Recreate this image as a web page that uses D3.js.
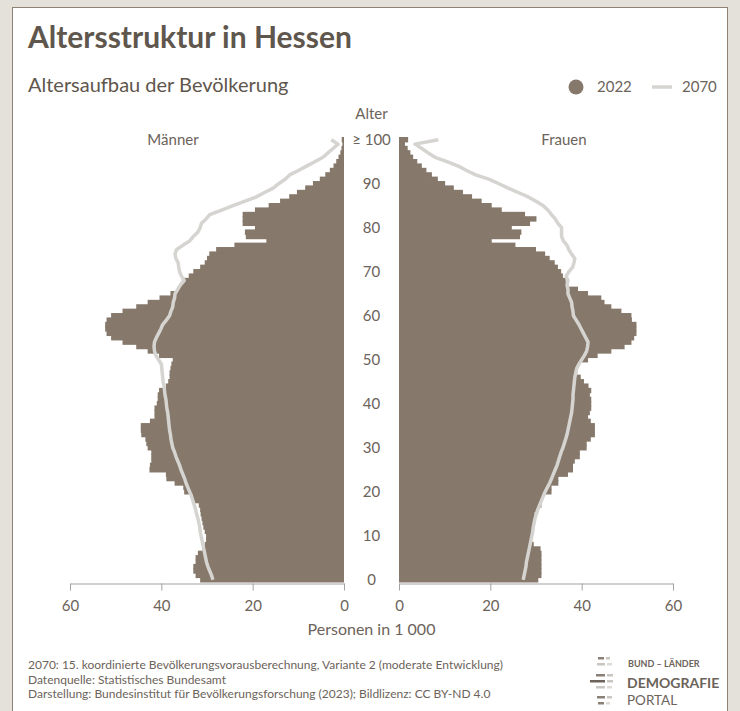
<!DOCTYPE html>
<html>
<head>
<meta charset="utf-8">
<script src="https://cdn.jsdelivr.net/npm/d3@7"></script>
<style>
  html, body { margin: 0; padding: 0; background: #e4e1db; }
  svg { display: block; font-family: Lato, "Open Sans", sans-serif; }
</style>
</head>
<body>
<div id="chart"></div>
<script>
// ages 0 .. 100 (100 = "≥ 100"), values in 1000 persons
const ages = d3.range(0, 101);

const maenner2022 = [
  31.5, 32.5, 33, 33, 32.5, 32.5, 32, 31, 30.5, 30.2,
  30.2, 30.5, 30.8, 31, 31.2, 31.4, 31.5, 31.8, 33, 33.1,
  35, 35.2, 37.1, 38.9, 39, 42.6, 42.5, 42.2, 42.2, 42.2,
  43, 43.3, 43.5, 44.4, 44.5, 44.5, 42.5, 41.5, 41.5, 41.5,
  41, 40.8, 40.8, 40.5, 39, 38.5, 38.2, 38.2, 38, 37.8,
  37.5, 40.5, 43, 45.5, 48.5, 51, 52, 52.3, 52.3, 52,
  51, 48.5, 45.5, 43, 40.4, 38, 36.5, 35.8, 35.5, 34,
  33, 31.5, 30.5, 30, 29.5, 28, 24, 17, 21.5, 21.7,
  19.5, 22.2, 22.2, 22.2, 19.5, 16.5, 14, 12, 10.3, 8.5,
  6.8, 5.3, 4.1, 3.1, 2.3, 1.7, 1.2, 0.8, 0.55, 0.35,
  0.5
];

const frauen2022 = [
  30.5, 31.2, 31.2, 31.2, 31.2, 31.2, 31.2, 31, 29.5, 29,
  29, 29, 29.2, 29.7, 29.7, 29.7, 30.5, 31.2, 31.2, 31.5,
  33.4, 33.4, 34.9, 34.9, 37, 38.1, 38.1, 38.5, 39.6, 39.6,
  41.1, 41.1, 42, 42.9, 42.9, 42.9, 42, 41.4, 41.8, 42.1,
  42.1, 42.1, 41.8, 42.1, 41.5, 40.5, 39.8, 39, 38.9, 39.2,
  41.4, 43.5, 46.5, 49.4, 50.9, 51.5, 52, 52, 52, 51,
  50.9, 48.7, 46.5, 45, 44.3, 41.4, 39.2, 37, 36.5, 35.9,
  35.5, 34.8, 34.1, 33, 32, 30, 25.5, 20.3, 26.5, 26.8,
  24.7, 28.7, 30.1, 27.6, 22.5, 20.3, 18.1, 16, 14, 12,
  10.1, 8.5, 7.2, 6, 5, 4, 3.1, 2.5, 1.9, 1.3,
  2
];

const maenner2070 = [
  28.7, 29.0, 29.4, 29.8, 30.1, 30.3, 30.5, 30.7, 30.9, 31.1,
  31.3, 31.5, 31.6, 31.8, 32.0, 32.3, 32.5, 32.8, 33.1, 33.4,
  33.8, 34.2, 34.6, 34.9, 35.3, 35.7, 36.0, 36.4, 36.8, 37.1,
  37.5, 37.7, 37.9, 38.0, 38.2, 38.3, 38.4, 38.5, 38.6, 38.8,
  38.9, 39.0, 39.2, 39.3, 39.4, 39.6, 39.7, 39.8, 39.9, 40.0,
  40.6, 41.2, 41.5, 41.6, 41.5, 41.1, 40.6, 40.1, 39.7, 38.9,
  38.2, 37.9, 37.5, 37.4, 37.1, 37.0, 36.4, 35.8, 35.0, 35.6,
  36.0, 36.2, 36.3, 36.8, 37.0, 36.7, 35.3, 33.8, 33.0, 32.0,
  31.5, 31.2, 30.2, 29.4, 26.8, 24.3, 21.8, 19.2, 17.4, 15.5,
  14.3, 12.9, 11.9, 10.0, 8.2, 6.4, 4.6, 3.5, 2.4, 1.3,
  2.8
];

const frauen2070 = [
  27.2, 27.4, 27.6, 27.8, 27.9, 28.1, 28.3, 28.5, 28.7, 28.9,
  29.1, 29.3, 29.4, 29.6, 29.8, 30.1, 30.4, 30.8, 31.2, 31.6,
  32.0, 32.5, 33.0, 33.4, 33.8, 34.2, 34.6, 34.9, 35.2, 35.5,
  35.9, 36.2, 36.5, 36.8, 37.0, 37.2, 37.4, 37.6, 37.8, 37.9,
  38.0, 38.1, 38.1, 38.2, 38.3, 38.4, 38.5, 38.7, 38.9, 39.4,
  40.0, 40.6, 41.1, 41.3, 41.4, 40.9, 40.4, 39.9, 39.4, 38.8,
  38.2, 38.1, 37.9, 37.8, 37.4, 37.0, 37.0, 36.8, 37.0, 36.6,
  37.2, 38.0, 38.3, 38.5, 37.8, 37.2, 36.8, 36.0, 35.6, 35.6,
  35.6, 34.8, 34.2, 33.4, 32.6, 31.6, 30.0, 28.3, 26.1, 23.9,
  21.9, 19.8, 16.8, 14.8, 13.0, 10.5, 7.9, 6.4, 5.0, 3.5,
  8.6
];

const ageTicks = [0, 10, 20, 30, 40, 50, 60, 70, 80, 90, 100];
const valueTicks = [0, 20, 40, 60];

const footer = [
  "2070: 15. koordinierte Bevölkerungsvorausberechnung, Variante 2 (moderate Entwicklung)",
  "Datenquelle: Statistisches Bundesamt",
  "Darstellung: Bundesinstitut für Bevölkerungsforschung (2023); Bildlizenz: CC BY-ND 4.0"
];

const W = 740, H = 711;
const barColor = "#86796b";
const lineColor = "#d6d4d0";
const textColor = "#6c635a";

const svg = d3.select("#chart").append("svg")
  .attr("width", W)
  .attr("height", H);

// white panel
svg.append("rect")
  .attr("x", 12.5).attr("y", 7.5)
  .attr("width", 715).attr("height", 710)
  .attr("fill", "#fff")
  .attr("stroke", "#8f8274")
  .attr("stroke-width", 1);

// titles
svg.append("text")
  .attr("x", 28).attr("y", 48)
  .attr("font-size", 30).attr("font-weight", 700)
  .attr("fill", "#5f564d")
  .text("Altersstruktur in Hessen");

svg.append("text")
  .attr("x", 28).attr("y", 92)
  .attr("font-size", 20)
  .attr("fill", "#5f564d")
  .text("Altersaufbau der Bevölkerung");

// legend
svg.append("circle").attr("cx", 576).attr("cy", 87).attr("r", 7.5).attr("fill", barColor);
svg.append("text").attr("x", 597).attr("y", 92).attr("font-size", 15).attr("fill", textColor).text("2022");
svg.append("line").attr("x1", 652).attr("x2", 672).attr("y1", 87).attr("y2", 87)
  .attr("stroke", lineColor).attr("stroke-width", 3.5);
svg.append("text").attr("x", 682).attr("y", 92).attr("font-size", 15).attr("fill", textColor).text("2070");

// scales
const y = d3.scaleBand()
  .domain(ages)
  .range([582, 137.5])
  .padding(0);

const xL = d3.scaleLinear().domain([0, 60]).range([344, 70]);
const xR = d3.scaleLinear().domain([0, 60]).range([399, 673]);

// bars (slight overlap hides antialiasing seams)
const overlap = 0.5;
svg.append("g").selectAll("rect")
  .data(ages)
  .join("rect")
  .attr("x", d => xL(maenner2022[d]))
  .attr("y", d => y(d) - overlap)
  .attr("width", d => xL(0) - xL(maenner2022[d]))
  .attr("height", y.bandwidth() + overlap * 2)
  .attr("fill", barColor);

svg.append("g").selectAll("rect")
  .data(ages)
  .join("rect")
  .attr("x", xR(0))
  .attr("y", d => y(d) - overlap)
  .attr("width", d => xR(frauen2022[d]) - xR(0))
  .attr("height", y.bandwidth() + overlap * 2)
  .attr("fill", barColor);

// 2070 lines
const yc = d => y(d) + y.bandwidth() / 2;
svg.append("path")
  .datum(ages)
  .attr("fill", "none")
  .attr("stroke", lineColor)
  .attr("stroke-width", 3.5)
  .attr("stroke-linejoin", "round")
  .attr("d", d3.line().x(d => xL(maenner2070[d])).y(yc));

svg.append("path")
  .datum(ages)
  .attr("fill", "none")
  .attr("stroke", lineColor)
  .attr("stroke-width", 3.5)
  .attr("stroke-linejoin", "round")
  .attr("d", d3.line().x(d => xR(frauen2070[d])).y(yc));

// x axes
const styleAxis = g => {
  g.select(".domain").attr("stroke", "#a3a3a3");
  g.selectAll(".tick line").attr("stroke", "#a3a3a3");
  g.selectAll(".tick text")
    .attr("fill", textColor)
    .attr("font-size", 15)
    .attr("font-family", "Lato, sans-serif");
};
svg.append("g")
  .attr("transform", "translate(0,583.5)")
  .call(d3.axisBottom(xL).tickValues(valueTicks).tickSize(7).tickSizeOuter(0).tickPadding(10))
  .call(styleAxis);
svg.append("g")
  .attr("transform", "translate(0,583.5)")
  .call(d3.axisBottom(xR).tickValues(valueTicks).tickSize(7).tickSizeOuter(0).tickPadding(10))
  .call(styleAxis);

// age labels
svg.append("g").selectAll("text")
  .data(ageTicks)
  .join("text")
  .attr("x", 371.5)
  .attr("y", d => yc(d) + 5)
  .attr("text-anchor", "middle")
  .attr("font-size", 15)
  .attr("fill", textColor)
  .text(d => d === 100 ? "≥ 100" : d);

svg.append("text").attr("x", 371.5).attr("y", 119).attr("text-anchor", "middle")
  .attr("font-size", 15).attr("fill", textColor).text("Alter");
svg.append("text").attr("x", 173).attr("y", 145).attr("text-anchor", "middle")
  .attr("font-size", 15).attr("fill", textColor).text("Männer");
svg.append("text").attr("x", 564).attr("y", 145).attr("text-anchor", "middle")
  .attr("font-size", 15).attr("fill", textColor).text("Frauen");
svg.append("text").attr("x", 371.5).attr("y", 635).attr("text-anchor", "middle")
  .attr("font-size", 16).attr("fill", textColor).text("Personen in 1 000");

// footer
svg.append("g").selectAll("text")
  .data(footer)
  .join("text")
  .attr("x", 28)
  .attr("y", (d, i) => 669 + i * 14.5)
  .attr("font-size", 12)
  .attr("fill", textColor)
  .text(d => d);

// logo
const logo = svg.append("g").attr("transform", "translate(590,655)");
const marks = [
  [8, 2, 6, "#8a8076"], [16, 2, 4, "#c9c5c0"],
  [7, 8, 8, "#c9c5c0"], [17, 8, 5, "#dedbd7"],
  [6, 19, 9, "#8a8076"], [17, 19, 6, "#c9c5c0"],
  [0, 25, 15, "#6c635a"], [17, 25, 6, "#c9c5c0"],
  [6, 31, 9, "#c9c5c0"], [17, 31, 5, "#dedbd7"],
  [7, 41, 8, "#8a8076"], [17, 41, 5, "#c9c5c0"],
  [8, 47, 6, "#8a8076"], [16, 47, 4, "#dedbd7"]
];
logo.selectAll("rect")
  .data(marks)
  .join("rect")
  .attr("x", d => d[0]).attr("y", d => d[1])
  .attr("width", d => d[2]).attr("height", 2.5)
  .attr("fill", d => d[3]);
svg.append("text").attr("x", 628).attr("y", 667).attr("font-size", 9).attr("font-weight", 700)
  .attr("fill", textColor).text("BUND – LÄNDER");
svg.append("text").attr("x", 627).attr("y", 688).attr("font-size", 14).attr("font-weight", 700)
  .attr("fill", textColor).text("DEMOGRAFIE");
svg.append("text").attr("x", 627).attr("y", 705).attr("font-size", 13.5)
  .attr("fill", textColor).text("PORTAL");
</script>
</body>
</html>
